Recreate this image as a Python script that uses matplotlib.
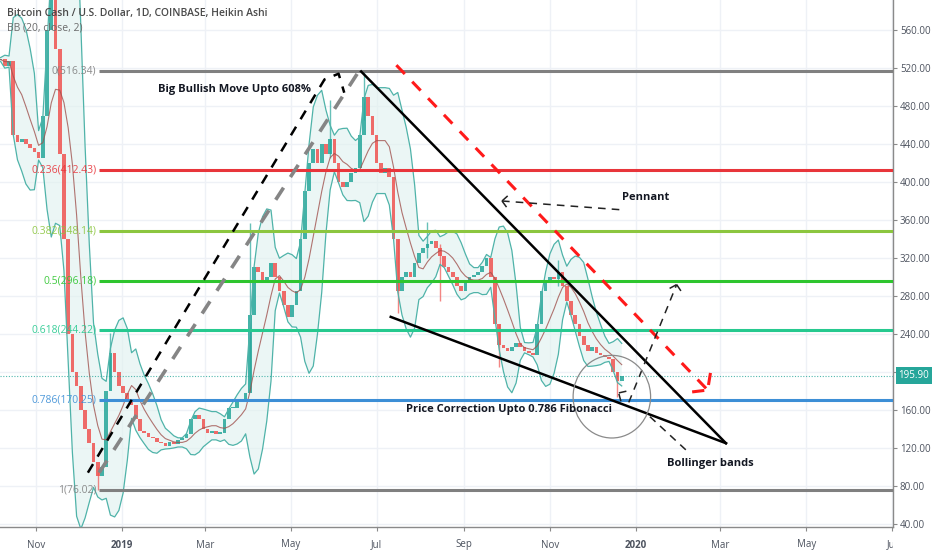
import matplotlib
matplotlib.use("Agg")
import matplotlib.pyplot as plt
import matplotlib.dates as mdates
from matplotlib.patches import Ellipse
from matplotlib.transforms import Bbox, TransformedBbox, blended_transform_factory
import numpy as np
import pandas as pd

plt.rcParams['font.family'] = ['Open Sans', 'DejaVu Sans']

# Heikin Ashi closes, one candle every 3 days from 2018-10-04
start_date = '2018-10-04'
closes = [528, 530, 522, 527, 450, 442, 445, 440, 436, 432,
          425, 470, 560, 620, 540, 430, 340, 240, 200, 185,
          160, 140, 125, 105, 90, 100, 180, 220, 200, 185,
          178, 172, 165, 150, 138, 136, 132, 130, 126, 125,
          122, 126, 124, 128, 130, 135, 150, 155, 150, 140,
          136, 138, 135, 136, 150, 162, 162, 168, 172, 178,
          260, 310, 305, 295, 300, 315, 300, 285, 270, 258,
          270, 285, 340, 390, 420, 435, 420, 440, 430, 445,
          420, 400, 395, 400, 410, 415, 450, 490, 470, 450,
          420, 410, 415, 405, 340, 285, 300, 305, 300, 315,
          325, 330, 335, 338, 330, 322, 310, 305, 300, 290,
          285, 295, 300, 302, 305, 312, 320, 300, 250, 228,
          225, 222, 226, 230, 226, 222, 220, 218, 250, 285,
          295, 300, 298, 305, 290, 275, 260, 250, 238, 228,
          222, 226, 220, 218, 216, 214, 200, 190, 195.9]
# (candle index, low, high) for the long wicks
wicks = [(13, 600, 640), (24, 76, 100), (27, 195, 241), (60, 180, 357),
         (79, 425, 486), (87, 465, 516.34), (95, 262, 340), (102, 320, 358),
         (105, 275, 335), (119, 205, 250), (133, 290, 318), (147, 174, 200)]
last_price = 195.90

fib_start = '2018-12-16'
fib_ratios = ['0', '0.236', '0.382', '0.5', '0.618', '0.786', '1']
fib_prices = [516.34, 412.43, 348.14, 296.18, 244.22, 170.25, 76.02]
fib_colors = ['#808080', '#e8353b', '#8cc63f', '#2ec52e', '#26c98f', '#3d8fd6', '#808080']

tick_dates = ['2018-11-01', '2019-01-01', '2019-03-01', '2019-05-01', '2019-07-01', '2019-09-01',
              '2019-11-01', '2020-01-01', '2020-03-01', '2020-05-01', '2020-07-01']
tick_names = ['Nov', '2019', 'Mar', 'May', 'Jul', 'Sep', 'Nov', '2020', 'Mar', 'May', 'Jul']
price_ticks = [40, 80, 120, 160, 200, 240, 280, 320, 360, 400, 440, 480, 520, 560]

# drawings: (date, price) points
tri_upper = [('2019-06-20', 516.34), ('2020-03-05', 125)]
tri_lower = [('2019-07-11', 258), ('2020-03-05', 125)]
red_channel = [('2019-07-15', 523), ('2020-02-21', 181)]
red_hook_a = [('2020-02-10', 179), ('2020-02-21', 181)]
red_hook_b = [('2020-02-23', 199), ('2020-02-21', 181)]
bull_black = [('2018-12-08', 94), ('2019-05-25', 508), ('2019-06-04', 514), ('2019-06-08', 494)]
bull_gray = [('2018-12-16', 94), ('2019-06-19', 518)]
pennant_line = [('2019-09-28', 380), ('2019-12-24', 370.5)]
pennant_tip_a = [('2019-09-28', 380), ('2019-10-04', 388)]
pennant_tip_b = [('2019-09-28', 380), ('2019-10-02', 372)]
bounce_line = [('2019-12-27', 168), ('2020-01-30', 292)]
bounce_tip_a = [('2020-01-25', 288), ('2020-01-30', 292)]
bounce_tip_b = [('2020-01-30', 292), ('2020-02-04', 281)]
bounce_base_a = [('2019-12-20', 178), ('2019-12-29', 181)]
bounce_base_b = [('2019-12-20', 177), ('2019-12-22', 166)]
drop_line = [('2020-01-11', 153), ('2020-02-07', 116)]
circle_center = ('2019-12-15', 174)
circle_size = (55, 87)

notes = [('2019-01-27', 497, 'Big Bullish Move Upto 608%'),
         ('2019-07-22', 160, 'Price Correction Upto 0.786 Fibonacci'),
         ('2019-12-22', 384, 'Pennant'),
         ('2020-01-23', 104, 'Bollinger bands')]

fig = plt.figure(figsize=(9.32, 5.5), dpi=100)
ax = fig.add_axes([0, 23 / 550, 893 / 932, 527 / 550])

dates = pd.date_range(start_date, periods=len(closes), freq='3D')
x = mdates.date2num(dates)
c = np.array(closes, dtype=float)
o = np.r_[c[0], c[:-1]]
lo = np.minimum(o, c)
hi = np.maximum(o, c)
up = c >= o
col = np.where(up, '#26a69a', '#ef5350')

# bollinger bands
s = pd.Series(c)
basis = s.rolling(7, min_periods=2).mean()
dev = s.rolling(7, min_periods=2).std(ddof=0)
upper = basis + 2 * dev
lower = basis - 2 * dev
ax.fill_between(x, lower, upper, color='#dff1ef', alpha=0.6, lw=0, zorder=1)

# grid
for d in tick_dates:
    ax.axvline(mdates.datestr2num(d), color='#eef1f6', lw=1, zorder=0)
for p in price_ticks:
    ax.axhline(p, color='#eef1f6', lw=1, zorder=0)

# candles
for i, l, h in wicks:
    ax.vlines(x[i], l, h, color=col[i], lw=1, alpha=0.7, zorder=2)
ax.bar(x, np.maximum(hi - lo, 1.5), bottom=lo, width=2.6, color=col, alpha=0.85, lw=0, zorder=2)

ax.plot(x, basis, color='#a0524e', lw=0.8, alpha=0.8, zorder=3)
ax.plot(x, upper, color='#4fb3a9', lw=0.9, zorder=3)
ax.plot(x, lower, color='#4fb3a9', lw=0.9, zorder=3)

# last price line
ax.axhline(last_price, color='#26a69a', lw=0.8, ls=(0, (1, 1.5)), alpha=0.8, zorder=3)

x_right = mdates.datestr2num('2020-07-01') + 0.6
x_left = mdates.datestr2num('2018-10-06') + 0.6
fx = mdates.datestr2num(fib_start)
for r, p, fc in zip(fib_ratios, fib_prices, fib_colors):
    ax.hlines(p, fx, x_right, color=fc, lw=2.2, zorder=4)
    ax.annotate(f'{r}({p:.2f})', (fx, p), xytext=(-2, 0), textcoords='offset points',
                ha='right', va='center', color=fc, fontsize=7.5, alpha=0.9, zorder=4)


def pts(seq):
    return [mdates.datestr2num(d) for d, _ in seq], [p for _, p in seq]


for seg in (tri_upper, tri_lower):
    ax.plot(*pts(seg), color='black', lw=1.8, zorder=5)
for seg in (red_channel, red_hook_a, red_hook_b):
    ax.plot(*pts(seg), color='#ff1a1a', lw=2.2, ls=(0, (4, 3.5)), zorder=5)
ax.plot(*pts(bull_black), color='black', lw=1.8, ls=(0, (4, 3.5)), zorder=5)
ax.plot(*pts(bull_gray), color='#858585', lw=2.6, ls=(0, (4, 3.5)), zorder=5)
for seg in (pennant_line, pennant_tip_a, pennant_tip_b, bounce_line, bounce_tip_a,
            bounce_tip_b, bounce_base_a, bounce_base_b, drop_line):
    ax.plot(*pts(seg), color='#222222', lw=1.1, ls=(0, (5, 4)), zorder=5)

ax.add_patch(Ellipse((mdates.datestr2num(circle_center[0]), circle_center[1]),
                     circle_size[0], circle_size[1], fill=False, ec='#8a8a8a', lw=0.9, zorder=5))

for d, p, t in notes:
    ax.text(mdates.datestr2num(d), p, t, ha='left', va='center', fontsize=8,
            fontweight='bold', color='#131722', zorder=6)

ax.text(0.008, 0.975, 'Bitcoin Cash / U.S. Dollar, 1D, COINBASE, Heikin Ashi', transform=ax.transAxes,
        fontsize=7.5, fontweight='semibold', color='#4a4a4a', va='center', zorder=6)
ax.text(0.008, 0.947, 'BB (20, close, 2)', transform=ax.transAxes,
        fontsize=7.5, color='#6b6b6b', va='center', zorder=6)

ax.set_xlim(x_left, x_right)
ax.set_ylim(36.8, 591.6)

ax.yaxis.tick_right()
ax.set_yticks(price_ticks)
# the last-price badge covers the 200 label, as on the original
ax.set_yticklabels(['' if p == 200 else f'{p:.2f}' for p in price_ticks])
ax.set_xticks([mdates.datestr2num(d) for d in tick_dates])
ax.set_xticklabels(tick_names)
ax.tick_params(axis='both', labelsize=7, colors='#8a8a8a', labelcolor='#4c525e', length=3, width=0.8)
ax.tick_params(axis='y', pad=2)
ax.tick_params(axis='x', pad=6)
clip = TransformedBbox(Bbox([[0, 0], [893 / 932, 1]]), fig.transFigure)
for lbl in ax.get_xticklabels():
    if lbl.get_text() in ('2019', '2020'):
        lbl.set_fontweight('bold')
    lbl.set_clip_box(clip)
    lbl.set_clip_on(True)

for side in ('top', 'left'):
    ax.spines[side].set_visible(False)
for side in ('right', 'bottom'):
    ax.spines[side].set_color('#8a8a8a')
    ax.spines[side].set_linewidth(1)

tr = blended_transform_factory(ax.transAxes, ax.transData)
ax.annotate(f'{last_price:.2f}', (1.0, last_price), xycoords=tr, xytext=(4, 0), textcoords='offset points',
            ha='left', va='center', fontsize=7, color='white', annotation_clip=False,
            bbox=dict(boxstyle='square,pad=0.3', fc='#26a69a', ec='none'), zorder=7)

fig.savefig('out.png', dpi=100)
